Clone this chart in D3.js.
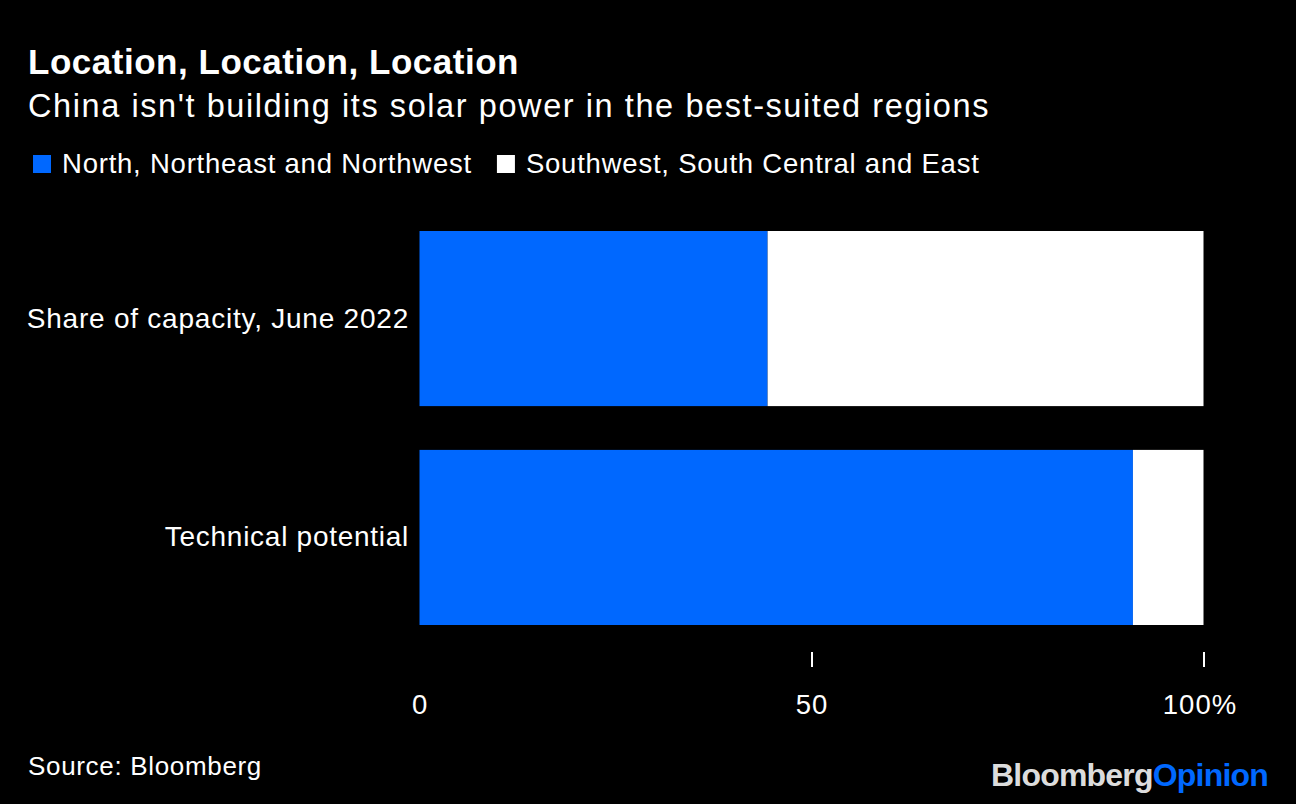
<!DOCTYPE html>
<html><head><meta charset="utf-8">
<script src="https://cdn.jsdelivr.net/npm/d3@7"></script>
<style>
html,body{margin:0;padding:0;background:#000;}
svg{display:block;font-family:"Liberation Sans",Arial,Helvetica,sans-serif;}
</style></head>
<body>
<svg id="chart" width="1296" height="804"></svg>
<script>
const categories = ["Share of capacity, June 2022", "Technical potential"];
const seriesNames = ["North, Northeast and Northwest", "Southwest, South Central and East"];
const northValues = [44.4, 91.0];
const southValues = [55.6, 9.0];
const tickValues = [0, 50, 100];
const tickLabels = ["0", "50", "100%"];
const colors = ["#0068ff", "#ffffff"];

const svg = d3.select("#chart");
svg.append("rect").attr("width",1296).attr("height",804).attr("fill","#000");

// widen text (reference font is wider than Arial) via letter-spacing
function widen(sel, factor){
  sel.each(function(){
    const w = this.getComputedTextLength();
    const n = this.textContent.length;
    d3.select(this).attr("letter-spacing", (w*(factor-1))/n);
  });
}

const title = svg.append("text").attr("x",28).attr("y",74).attr("fill","#fff")
  .attr("font-size",35).attr("font-weight","bold").text("Location, Location, Location");
widen(title, 491/ (title.node().getComputedTextLength()));
const sub = svg.append("text").attr("x",28).attr("y",117).attr("fill","#fff")
  .attr("font-size",32.5).text("China isn't building its solar power in the best-suited regions");
widen(sub, 962/(sub.node().getComputedTextLength()));

// legend
const leg = svg.append("g");
let lx = 33;
seriesNames.forEach((n,i)=>{
  leg.append("rect").attr("x",lx).attr("y",155).attr("width",18).attr("height",18).attr("fill",colors[i]);
  const t = leg.append("text").attr("x",lx+29).attr("y",173).attr("fill","#fff").attr("font-size",27.5).text(n);
  widen(t, 1.06);
  lx += 29 + t.node().getComputedTextLength() + 25;
});

const x = d3.scaleLinear().domain([0,100]).range([419.5,1203.5]);
const y = d3.scaleBand().domain(categories).range([231,625]).paddingInner(0.2).paddingOuter(0);

const stackData = categories.map((c,i)=>({cat:c, north:northValues[i], south:southValues[i]}));
const stack = d3.stack().keys(["north","south"])(stackData);

svg.append("g").selectAll("g").data(stack).join("g")
  .attr("fill",(d,i)=>colors[i])
  .selectAll("rect").data(d=>d).join("rect")
  .attr("x",d=>x(d[0])).attr("width",d=>x(d[1])-x(d[0]))
  .attr("y",d=>y(d.data.cat)).attr("height",y.bandwidth());

// category labels
const cl = svg.append("g").selectAll("text").data(categories).join("text")
  .attr("x",409).attr("y",d=>y(d)+y.bandwidth()/2+9)
  .attr("text-anchor","end").attr("fill","#fff").attr("font-size",28).text(d=>d);
widen(cl, 1.06);

// x axis
const axis = d3.axisBottom(x).tickValues(tickValues).tickSize(15).tickPadding(22)
  .tickFormat((d,i)=>tickLabels[i]);
const ax = svg.append("g").attr("transform","translate(0,652)").call(axis);
ax.select(".domain").remove();
ax.selectAll(".tick line").attr("stroke","#fff").attr("stroke-width",2)
  .filter(d=>d===0).remove();
const tt = ax.selectAll(".tick text").attr("fill","#fff").attr("font-size",27.5)
  .attr("font-family","'Liberation Sans',Arial,sans-serif").attr("dy","0.71em")
  .attr("y",42);
widen(tt, 1.06);
ax.selectAll(".tick text").filter(d=>d===100).attr("dx",-4);

const src = svg.append("text").attr("x",28).attr("y",775).attr("fill","#fff").attr("font-size",26).text("Source: Bloomberg");
widen(src, 234/src.node().getComputedTextLength());

const logo = svg.append("text").attr("x",1268).attr("y",786).attr("text-anchor","end")
  .attr("font-size",32).attr("font-weight","bold").attr("letter-spacing",-0.8);
logo.append("tspan").attr("fill","#dcdcdc").text("Bloomberg");
logo.append("tspan").attr("fill","#0068ff").text("Opinion");
</script>
</body></html>
